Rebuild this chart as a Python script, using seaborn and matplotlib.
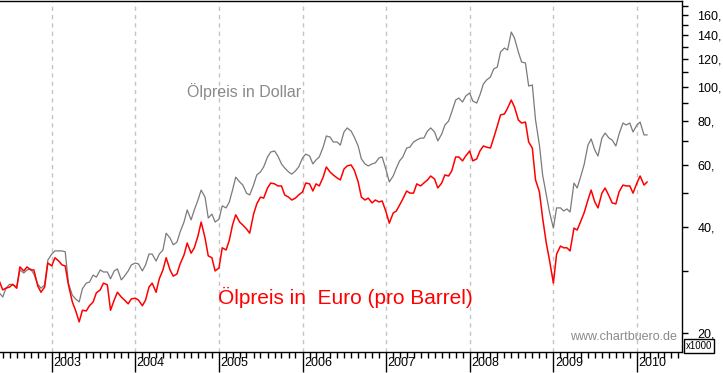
import numpy as np
import pandas as pd
import matplotlib
matplotlib.use("Agg")
import matplotlib.pyplot as plt
import matplotlib.dates as mdates
import matplotlib.transforms as mtransforms
import seaborn as sns

# ---- data (semi-monthly readings) ----
start_date = "2002-05-15"

dollar = [26.1, 25.3, 26.8, 27.5, 27.4, 27.0, 30.2, 29.6, 30.2, 30.4,
          29.4, 27.5, 26.8, 27.4, 32.2, 33.5, 34.2, 34.2, 34.2, 34.0,
          27.7, 25.6, 25.0, 24.5, 26.7, 27.7, 27.9, 29.2, 28.8, 30.2,
          29.8, 29.8, 28.5, 30.0, 30.4, 28.3, 29.0, 30.0, 31.2, 31.6,
          31.4, 30.0, 31.2, 33.5, 33.5, 32.0, 33.5, 34.4, 38.4, 37.2,
          35.6, 36.2, 38.7, 41.3, 44.7, 41.9, 44.7, 47.7, 50.9, 48.6,
          42.4, 43.5, 41.3, 42.1, 45.9, 45.3, 47.1, 50.9, 55.4, 53.7,
          52.6, 49.9, 49.3, 52.6, 56.2, 57.3, 59.2, 63.2, 65.3, 65.7,
          63.6, 60.4, 58.8, 57.3, 56.5, 57.7, 59.2, 62.8, 64.4, 63.6,
          60.4, 62.0, 63.2, 67.4, 72.5, 72.0, 69.7, 69.7, 68.3, 74.4,
          76.4, 74.9, 72.0, 67.9, 62.4, 60.4, 59.6, 60.4, 60.8, 62.8,
          63.2, 58.0, 53.7, 55.8, 58.8, 61.6, 63.2, 67.0, 67.4, 69.7,
          70.6, 71.5, 71.5, 74.9, 76.4, 74.4, 70.2, 73.4, 77.9, 79.9,
          84.8, 91.7, 92.9, 90.5, 94.1, 96.0, 91.1, 89.9, 94.8, 101.8,
          104.5, 106.6, 112.3, 113.8, 125.5, 128.8, 127.2, 143.0, 137.5, 125.5,
          117.6, 116.8, 100.5, 101.2, 80.5, 68.3, 56.2, 49.3, 44.1, 39.7,
          45.3, 45.3, 44.4, 45.0, 44.1, 53.3, 51.6, 55.8, 60.0, 68.3,
          71.1, 66.1, 63.6, 71.5, 73.9, 71.5, 70.6, 67.9, 73.4, 78.9,
          77.9, 78.9, 74.4, 77.9, 79.4, 73.0, 73.0]

euro = [28.3, 26.5, 26.8, 27.0, 27.5, 26.8, 30.8, 30.0, 30.8, 30.2,
        30.2, 27.2, 26.1, 27.0, 31.6, 31.0, 32.7, 32.0, 31.2, 31.0,
        27.4, 24.5, 23.2, 21.5, 23.2, 23.1, 23.9, 24.5, 26.0, 26.5,
        27.7, 27.4, 23.2, 24.8, 26.1, 25.3, 24.8, 24.2, 25.0, 25.1,
        24.8, 23.9, 24.8, 27.0, 27.7, 26.1, 28.5, 30.2, 32.7, 30.2,
        29.0, 29.4, 31.4, 33.3, 36.0, 33.7, 34.9, 37.7, 41.3, 37.2,
        33.1, 32.7, 30.0, 30.6, 34.9, 34.4, 36.7, 40.5, 43.3, 41.3,
        40.5, 39.5, 38.4, 43.5, 46.5, 48.6, 48.3, 51.6, 53.3, 53.0,
        52.3, 52.3, 49.3, 48.6, 47.7, 48.3, 49.3, 50.3, 53.3, 53.0,
        50.6, 53.0, 52.3, 55.4, 59.2, 57.3, 56.2, 55.1, 54.4, 58.4,
        59.6, 60.0, 58.0, 53.7, 48.6, 47.7, 48.3, 46.8, 47.7, 47.1,
        47.4, 44.1, 41.0, 43.8, 44.4, 46.2, 48.0, 50.6, 49.9, 49.9,
        53.0, 52.3, 53.3, 54.4, 55.8, 54.7, 51.6, 53.3, 56.2, 55.8,
        57.7, 63.2, 63.2, 61.6, 63.6, 65.7, 61.6, 62.4, 65.7, 67.9,
        67.4, 67.0, 71.5, 77.4, 83.2, 83.7, 87.0, 91.7, 87.6, 80.5,
        78.9, 79.4, 69.7, 67.0, 54.4, 50.3, 42.4, 36.0, 32.2, 27.7,
        33.5, 35.3, 34.9, 34.9, 34.2, 39.7, 39.2, 41.6, 43.8, 47.7,
        50.9, 47.1, 45.3, 49.9, 51.6, 49.0, 46.8, 46.5, 50.3, 52.6,
        52.3, 52.3, 49.9, 53.3, 55.8, 52.6, 53.7]

years = [2003, 2004, 2005, 2006, 2007, 2008, 2009, 2010]
y_major = [20, 40, 60, 80, 100, 120, 140, 160]
y_minor = [30, 50, 70, 90, 110, 130, 150, 170]
label_dollar = "Ölpreis in Dollar"
label_euro = "Ölpreis in  Euro (pro Barrel)"
watermark = "www.chartbuero.de"
unit_label = "x1000"

dates = pd.date_range(start_date, periods=len(dollar), freq="SMS")
df = pd.DataFrame({"date": dates, "dollar": dollar, "euro": euro})

# ---- style ----
sns.set_style("white")
plt.rcParams["font.family"] = ["Liberation Sans", "DejaVu Sans"]

W, H = 723, 373
fig = plt.figure(figsize=(W / 100, H / 100), dpi=100)
ax = fig.add_axes([0, 21 / H, 682 / W, 351 / H])

sns.lineplot(data=df, x="date", y="dollar", color="#7a7a7a", lw=0.9, ax=ax, zorder=3)
sns.lineplot(data=df, x="date", y="euro", color="#ff0000", lw=1.1, ax=ax, zorder=4)

ax.set_yscale("log")
ax.set_ylim(17.66, 175.2)
ax.set_xlim(pd.Timestamp("2002-05-20"), pd.Timestamp("2010-07-17"))
ax.set_xlabel("")
ax.set_ylabel("")

# spines
for s in ["top", "right", "bottom"]:
    ax.spines[s].set_visible(True)
    ax.spines[s].set_color("black")
    ax.spines[s].set_linewidth(1.0)
ax.spines["left"].set_visible(False)

# y axis on the right
ax.yaxis.tick_right()
ax.set_yticks(y_major)
ax.set_yticklabels([f"{v}," for v in y_major])
ax.set_yticks(y_minor, minor=True)
ax.set_yticklabels([], minor=True)
ax.tick_params(axis="y", which="both", direction="out", length=4.5, width=1,
               color="black", pad=6.5, labelsize=9, labelcolor="black",
               right=True, left=False)

# x axis
year_ticks = [pd.Timestamp(f"{y}-01-01") for y in years]
ax.set_xticks(year_ticks)
ax.set_xticklabels([str(y) for y in years], ha="left")
ax.xaxis.set_minor_locator(mdates.MonthLocator())
ax.tick_params(axis="x", which="major", direction="out", length=14.4, width=1,
               color="black", pad=-11.0, labelsize=9, labelcolor="black", bottom=True)
ax.tick_params(axis="x", which="minor", direction="out", length=4.5, width=1,
               color="black", bottom=True)
offset = mtransforms.ScaledTranslation(1.5 / 100, 0, fig.dpi_scale_trans)
for lab in ax.get_xticklabels():
    lab.set_transform(lab.get_transform() + offset)

# dashed year gridlines
ax.grid(False)
ax.xaxis.grid(True, which="major", color="#c4c4c4", lw=1.0, ls=(0, (3, 3)))
ax.set_axisbelow(True)

# texts
fig.text(187 / W, 1 - 92 / H, label_dollar, color="#8a8a8a", fontsize=11.5,
         ha="left", va="center")
fig.text(218 / W, 1 - 297 / H, label_euro, color="#ff0000", fontsize=15,
         ha="left", va="center")
fig.text(570 / W, 1 - 337 / H, watermark, color="#8a8a8a", fontsize=9,
         ha="left", va="center")
fig.text(686 / W, 1 - 346 / H, unit_label, color="black", fontsize=7,
         ha="left", va="center",
         bbox=dict(boxstyle="square,pad=0.2", fc="white", ec="black", lw=1))

fig.savefig("out.png", dpi=100)
